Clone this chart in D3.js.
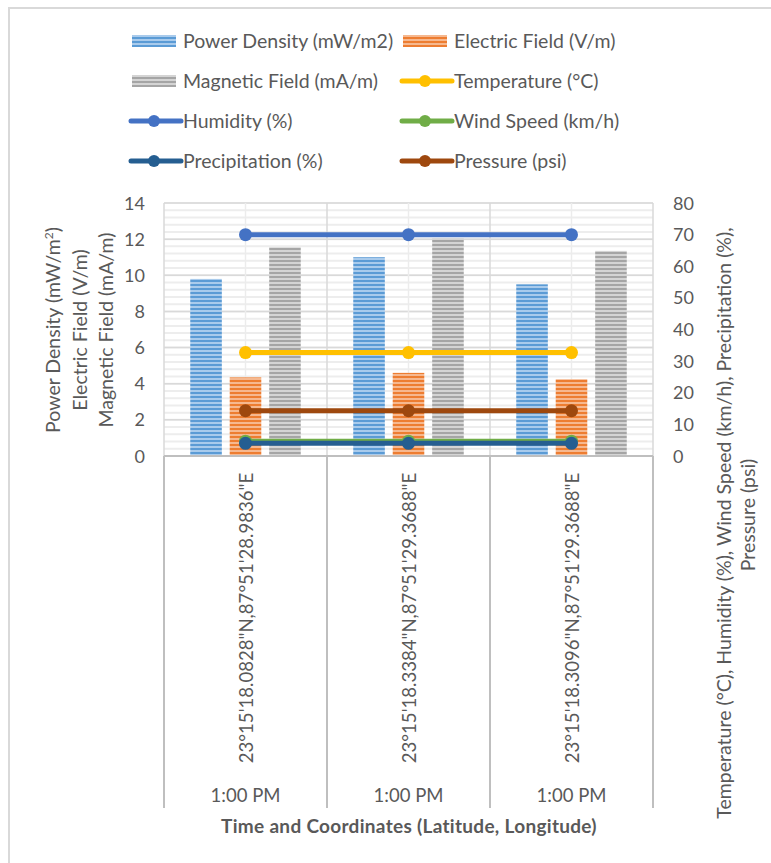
<!DOCTYPE html>
<html>
<head>
<meta charset="utf-8">
<script src="https://cdn.jsdelivr.net/npm/d3@7"></script>
<style>
  body { margin: 0; background: #fff; }
  svg text { font-family: Lato, "Open Sans", sans-serif; fill: #595959; }
</style>
</head>
<body>
<div id="chart"></div>
<script>
// data
var coords = ["23°15'18.0828\"N,87°51'28.9836\"E", "23°15'18.3384\"N,87°51'29.3688\"E", "23°15'18.3096\"N,87°51'29.3688\"E"];
var times = ["1:00 PM", "1:00 PM", "1:00 PM"];

var powerDensity = [9.8, 11.0, 9.5];
var electricField = [4.35, 4.6, 4.25];
var magneticField = [11.55, 12.05, 11.35];

var temperature = [32.7, 32.7, 32.7];
var humidity = [70, 70, 70];
var windSpeed = [4.7, 4.7, 4.7];
var precipitation = [4.0, 4.0, 4.0];
var pressure = [14.3, 14.3, 14.3];

var leftTicks = [0, 2, 4, 6, 8, 10, 12, 14];
var rightTicks = [0, 10, 20, 30, 40, 50, 60, 70, 80];

var barSeries = [
  {name: "Power Density (mW/m2)", values: powerDensity, color: "#5B9BD5", light: "#a9cbec"},
  {name: "Electric Field (V/m)", values: electricField, color: "#ED7D31", light: "#f6b88f"},
  {name: "Magnetic Field (mA/m)", values: magneticField, color: "#A5A5A5", light: "#d4d4d4"}
];
var lineSeries = [
  {name: "Temperature (°C)", values: temperature, color: "#FFC000"},
  {name: "Humidity (%)", values: humidity, color: "#4472C4"},
  {name: "Wind Speed (km/h)", values: windSpeed, color: "#70AD47"},
  {name: "Precipitation (%)", values: precipitation, color: "#255E91"},
  {name: "Pressure (psi)", values: pressure, color: "#9E480E"}
];

var W = 771, H = 863;
var plot = {left: 164, right: 653, top: 203, bottom: 456};

var svg = d3.select("#chart").append("svg")
  .attr("width", W).attr("height", H);

// chart border
svg.append("rect")
  .attr("x", 9).attr("y", 8).attr("width", W + 20).attr("height", H + 20)
  .attr("fill", "#fff").attr("stroke", "#d9d9d9").attr("stroke-width", 2);

// striped fills for the bars
var defs = svg.append("defs");
barSeries.forEach(function(s, i) {
  var p = defs.append("pattern").attr("id", "stripe" + i)
    .attr("patternUnits", "userSpaceOnUse").attr("width", 8).attr("height", 4);
  p.append("rect").attr("width", 8).attr("height", 4).attr("fill", s.color);
  p.append("rect").attr("y", 2).attr("width", 8).attr("height", 2).attr("fill", s.light);
});

var x = d3.scaleBand().domain(d3.range(coords.length))
  .range([plot.left, plot.right]).padding(0);
var xInner = d3.scaleBand().domain(d3.range(barSeries.length))
  .range([0, x.bandwidth()]).paddingInner(0.2).paddingOuter(0.665);
var yL = d3.scaleLinear().domain([0, 14]).range([plot.bottom, plot.top]);
var yR = d3.scaleLinear().domain([0, 80]).range([plot.bottom, plot.top]);

// minor + major horizontal gridlines
var g = svg.append("g");
g.selectAll(".minor").data(d3.range(0, 14.01, 0.4))
  .enter().append("line")
  .attr("x1", plot.left).attr("x2", plot.right)
  .attr("y1", function(d) { return yL(d); }).attr("y2", function(d) { return yL(d); })
  .attr("stroke", "#ededed").attr("stroke-width", 2);
g.selectAll(".major").data(leftTicks)
  .enter().append("line")
  .attr("x1", plot.left).attr("x2", plot.right)
  .attr("y1", function(d) { return yL(d); }).attr("y2", function(d) { return yL(d); })
  .attr("stroke", "#d9d9d9").attr("stroke-width", 1.5);

// vertical gridlines
g.selectAll(".vc").data(d3.range(coords.length))
  .enter().append("line")
  .attr("x1", function(d) { return x(d) + x.bandwidth() / 2; })
  .attr("x2", function(d) { return x(d) + x.bandwidth() / 2; })
  .attr("y1", plot.top).attr("y2", plot.bottom)
  .attr("stroke", "#ececec").attr("stroke-width", 1.5);
g.selectAll(".vb").data(d3.range(coords.length + 1))
  .enter().append("line")
  .attr("x1", function(d) { return plot.left + d * x.bandwidth(); })
  .attr("x2", function(d) { return plot.left + d * x.bandwidth(); })
  .attr("y1", plot.top).attr("y2", plot.bottom)
  .attr("stroke", "#d9d9d9").attr("stroke-width", 1.5);

// bars
barSeries.forEach(function(s, si) {
  svg.append("g").selectAll("rect").data(s.values)
    .enter().append("rect")
    .attr("x", function(d, i) { return x(i) + xInner(si); })
    .attr("width", xInner.bandwidth())
    .attr("y", function(d) { return yL(d); })
    .attr("height", function(d) { return yL(0) - yL(d); })
    .attr("fill", "url(#stripe" + si + ")");
});

// lines with markers
var line = d3.line()
  .x(function(d, i) { return x(i) + x.bandwidth() / 2; })
  .y(function(d) { return yR(d); });
lineSeries.forEach(function(s) {
  var lg = svg.append("g");
  lg.append("path").datum(s.values)
    .attr("d", line).attr("fill", "none")
    .attr("stroke", s.color).attr("stroke-width", 5);
  lg.selectAll("circle").data(s.values)
    .enter().append("circle")
    .attr("cx", function(d, i) { return x(i) + x.bandwidth() / 2; })
    .attr("cy", function(d) { return yR(d); })
    .attr("r", 6.5).attr("fill", s.color);
});

// x axis line + category lines
svg.append("line")
  .attr("x1", plot.left).attr("x2", plot.right)
  .attr("y1", plot.bottom).attr("y2", plot.bottom)
  .attr("stroke", "#bfbfbf").attr("stroke-width", 2);
svg.append("g").selectAll("line").data(d3.range(coords.length + 1))
  .enter().append("line")
  .attr("x1", function(d) { return plot.left + d * x.bandwidth(); })
  .attr("x2", function(d) { return plot.left + d * x.bandwidth(); })
  .attr("y1", plot.bottom).attr("y2", 808)
  .attr("stroke", "#bfbfbf").attr("stroke-width", 2);

// category labels
svg.append("g").selectAll("text").data(coords)
  .enter().append("text")
  .attr("transform", function(d, i) {
    return "translate(" + (x(i) + x.bandwidth() / 2 + 7) + ",618) rotate(-90)";
  })
  .attr("text-anchor", "middle")
  .style("font-size", "18.6px")
  .text(function(d) { return d; });
svg.append("g").selectAll("text").data(times)
  .enter().append("text")
  .attr("x", function(d, i) { return x(i) + x.bandwidth() / 2; })
  .attr("y", 802)
  .attr("text-anchor", "middle")
  .style("font-size", "18.5px")
  .text(function(d) { return d; });

svg.append("text")
  .attr("x", 409).attr("y", 833)
  .attr("text-anchor", "middle")
  .style("font-size", "19px").style("font-weight", "bold")
  .style("letter-spacing", "0.3px")
  .text("Time and Coordinates (Latitude, Longitude)");

// left axis
svg.append("g").selectAll("text").data(leftTicks)
  .enter().append("text")
  .attr("x", 145).attr("y", function(d) { return yL(d) + 6.5; })
  .attr("text-anchor", "end")
  .style("font-size", "18px")
  .text(function(d) { return d; });

// right axis
svg.append("g").selectAll("text").data(rightTicks)
  .enter().append("text")
  .attr("x", 673).attr("y", function(d) { return yR(d) + 6.5; })
  .attr("text-anchor", "start")
  .style("font-size", "18px")
  .text(function(d) { return d; });

// left axis title (three lines)
var lt = svg.append("text")
  .attr("transform", "rotate(-90)")
  .attr("text-anchor", "middle")
  .style("font-size", "19.5px");
var l1 = lt.append("tspan").attr("x", -330).attr("y", 60).text("Power Density (mW/m");
l1.append("tspan").attr("dy", -7).style("font-size", "12px").text("2");
l1.append("tspan").attr("dy", 7).text(")");
lt.append("tspan").attr("x", -330).attr("y", 87).text("Electric Field (V/m)");
lt.append("tspan").attr("x", -330).attr("y", 113).text("Magnetic Field (mA/m)");

// right axis title (two lines)
var rt = svg.append("text")
  .attr("transform", "rotate(-90)")
  .attr("text-anchor", "middle")
  .style("font-size", "19.5px");
rt.append("tspan").attr("x", -523).attr("y", 731)
  .text("Temperature (°C), Humidity (%), Wind Speed (km/h), Precipitation (%),");
rt.append("tspan").attr("x", -515).attr("y", 755).text("Pressure (psi)");

// legend
var legendItems = barSeries.map(function(s, i) { return {name: s.name, color: s.color, bar: true, idx: i}; })
  .concat(lineSeries.map(function(s) { return {name: s.name, color: s.color, bar: false}; }));
var colX = [131, 402];
var rowY = [41, 81, 121, 161];
var leg = svg.append("g").selectAll("g").data(legendItems)
  .enter().append("g")
  .attr("transform", function(d, i) {
    return "translate(" + colX[i % 2] + "," + rowY[Math.floor(i / 2)] + ")";
  });
leg.each(function(d) {
  var el = d3.select(this);
  if (d.bar) {
    el.append("rect").attr("x", 1).attr("y", -6).attr("width", 44).attr("height", 12)
      .attr("fill", "url(#stripe" + d.idx + ")");
  } else {
    el.append("line").attr("x1", 0).attr("x2", 50).attr("y1", 0).attr("y2", 0)
      .attr("stroke", d.color).attr("stroke-width", 5).attr("stroke-linecap", "round");
    el.append("circle").attr("cx", 23).attr("cy", 0).attr("r", 6).attr("fill", d.color);
  }
  el.append("text").attr("x", 52).attr("y", 7).style("font-size", "19.5px").text(d.name);
});
</script>
</body>
</html>
